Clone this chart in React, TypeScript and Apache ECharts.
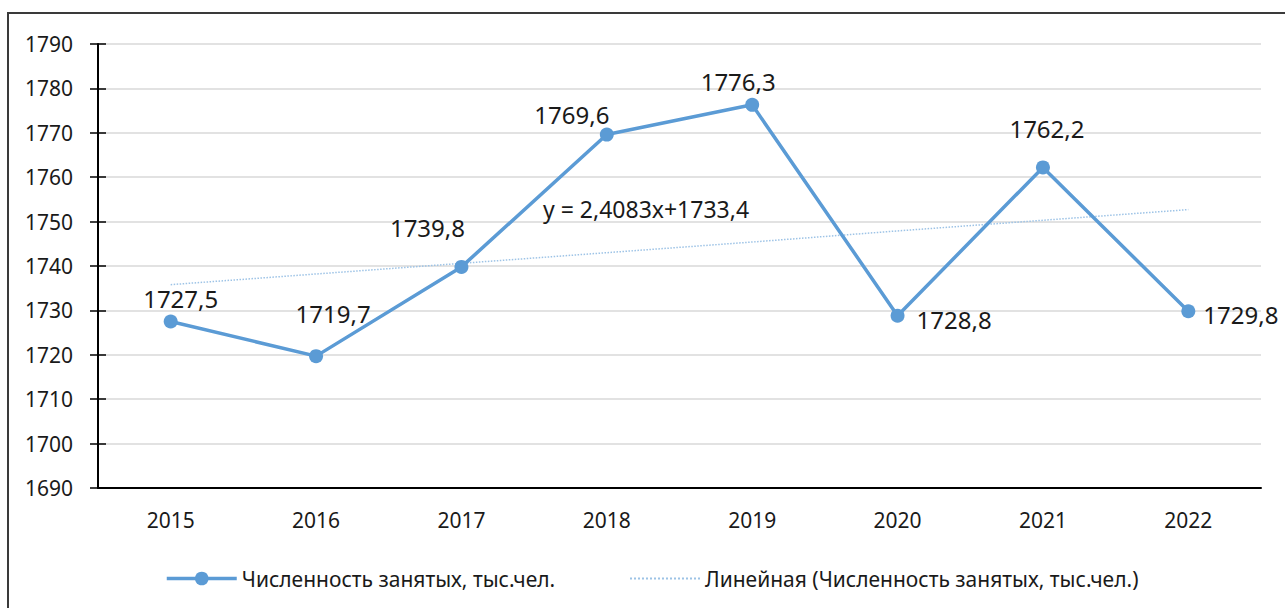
import React, { useEffect, useRef } from "react";
import * as echarts from "echarts";

const categories = ["2015", "2016", "2017", "2018", "2019", "2020", "2021", "2022"];
const employed = [1727.5, 1719.7, 1739.8, 1769.6, 1776.3, 1728.8, 1762.2, 1729.8];
const trend = [1735.8, 1738.2, 1740.6, 1743.0, 1745.4, 1747.9, 1750.3, 1752.7];
const seriesName = "Численность занятых, тыс.чел.";
const trendName = "Линейная (Численность занятых, тыс.чел.)";
const equation = "y = 2,4083x+1733,4";

const labelPlacement: { position: string; offset: [number, number] }[] = [
  { position: "top", offset: [10, 0] },
  { position: "top", offset: [17, -20] },
  { position: "top", offset: [-34, -16] },
  { position: "top", offset: [-35, 3] },
  { position: "top", offset: [-14, 0] },
  { position: "right", offset: [8, 4] },
  { position: "top", offset: [4, -16] },
  { position: "right", offset: [4, 3] },
];

const FONT = "Noto Sans";
const TEXT = "#1a1a1a";

export default function App() {
  const ref = useRef<HTMLDivElement>(null);
  useEffect(() => {
    if (!ref.current) return;
    const chart = echarts.init(ref.current, null, { renderer: "svg" });
    const yBase = {
      type: "value",
      min: 1690,
      max: 1790,
      interval: 10,
    };
    chart.setOption({
      animation: false,
      backgroundColor: "#fff",
      textStyle: { fontFamily: FONT },
      grid: { left: 98, right: 24, top: 44, bottom: 120, containLabel: false },
      xAxis: {
        type: "category",
        data: categories,
        boundaryGap: true,
        axisLine: { lineStyle: { color: "#000", width: 2 } },
        axisTick: { alignWithLabel: true, length: 8, lineStyle: { color: "#000", width: 1.5 } },
        axisLabel: { color: TEXT, fontSize: 21, margin: 21, fontFamily: FONT },
        splitLine: { show: false },
      },
      yAxis: [
        {
          ...yBase,
          axisLine: { show: true, lineStyle: { color: "#000", width: 2 } },
          axisTick: { show: true, length: 8, lineStyle: { color: "#000", width: 1.5 } },
          axisLabel: {
            color: TEXT,
            fontSize: 21,
            margin: 25,
            fontFamily: FONT,
            formatter: (v: number) => String(v),
          },
          splitLine: { show: true, lineStyle: { color: "#d9d9d9", width: 1.5 } },
        },
        {
          ...yBase,
          position: "left",
          axisLine: { show: false },
          axisTick: { show: true, inside: true, length: 8, lineStyle: { color: "#000", width: 1.5 } },
          axisLabel: { show: false },
          splitLine: { show: false },
        },
      ],
      legend: [
        {
          left: 160,
          top: 563,
          itemWidth: 70,
          itemHeight: 17,
          data: [seriesName],
          lineStyle: { width: 3.5 },
          textStyle: { color: TEXT, fontSize: 21, fontFamily: FONT },
        },
        {
          left: 624,
          top: 563,
          itemWidth: 70,
          itemHeight: 17,
          data: [trendName],
          itemStyle: { opacity: 0 },
          textStyle: { color: TEXT, fontSize: 21, fontFamily: FONT },
        },
      ],
      series: [
        {
          name: trendName,
          type: "line",
          data: trend,
          symbol: "none",
          silent: true,
          lineStyle: { color: "#9dc3e6", width: 1.5, type: "dotted" },
          itemStyle: { color: "#9dc3e6" },
          z: 1,
        },
        {
          name: seriesName,
          type: "line",
          data: employed.map((v, i) => ({
            value: v,
            label: {
              show: true,
              position: labelPlacement[i].position,
              offset: labelPlacement[i].offset,
            },
          })),
          symbol: "circle",
          symbolSize: 14,
          lineStyle: { color: "#5b9bd5", width: 3.5 },
          itemStyle: { color: "#5b9bd5" },
          label: {
            show: true,
            color: TEXT,
            fontSize: 24,
            fontFamily: FONT,
            distance: 4,
            formatter: (p: any) => String(p.value).replace(".", ","),
          },
          z: 3,
        },
      ],
      graphic: [
        {
          type: "rect",
          shape: { x: 8, y: 13, width: 1320, height: 640 },
          style: { fill: "none", stroke: "#3a3a3a", lineWidth: 2 },
          silent: true,
          z: 100,
        },
        {
          type: "text",
          left: 543,
          top: 197,
          style: { text: equation, fill: TEXT, fontSize: 23, fontFamily: FONT },
          z: 100,
        },
      ],
    });
    return () => chart.dispose();
  }, []);
  return (
    <div
      ref={ref}
      style={{ position: "absolute", left: 0, top: 0, width: 1285, height: 608 }}
    />
  );
}
